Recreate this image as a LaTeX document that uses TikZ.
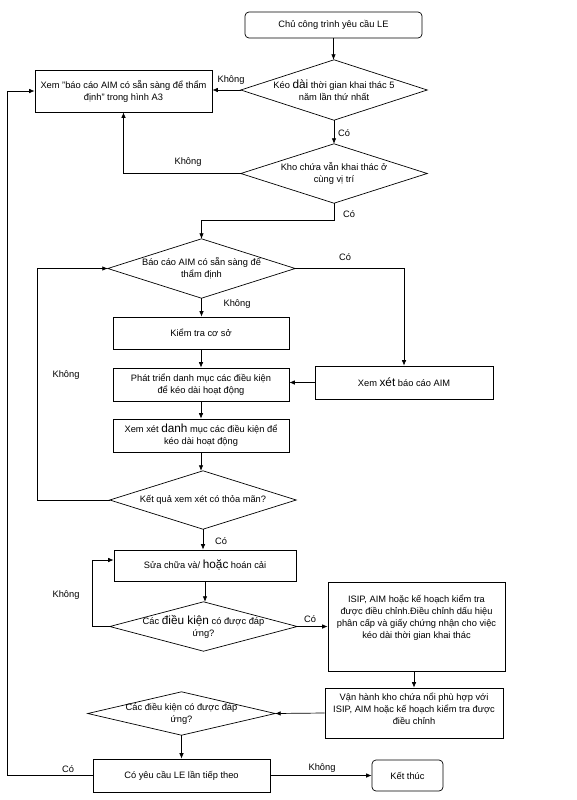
\documentclass[tikz,border=0pt]{standalone}
\usepackage{fontspec}
\setmainfont{Liberation Sans}
\usetikzlibrary{arrows.meta}
\newcommand\fs{\fontsize{9.3}{12}\selectfont}
\newcommand\bg[1]{{\fontsize{11.8}{12}\selectfont #1}}
\tikzset{
  box/.style={draw, line width=0.7pt, inner sep=2pt, align=center, font=\fs},
  rbox/.style={box, rounded corners=4pt},
  dtxt/.style={inner sep=0pt, align=center, font=\fs},
  ttxt/.style={inner sep=0pt, align=center, font=\fs},
  lbl/.style={font=\fs, inner sep=1pt},
  arr/.style={-{Latex[length=5.5pt,width=4.5pt]}, line width=0.7pt},
  ln/.style={line width=0.7pt},
}
\begin{document}
\begin{tikzpicture}[x=1pt,y=-1pt]
\useasboundingbox (0,0) rectangle (576,800);
\fill[white] (0,0) rectangle (576,800);

% nodes
\node[rbox, minimum width=177pt, minimum height=26pt] (start) at (333.5,25) {Chủ công trình yêu cầu LE};
\node[dtxt, minimum width=186pt, minimum height=60pt] (d1) at (334,90) {Kéo \bg{dài} thời gian khai thác 5\\năm lần thứ nhất};
\node[box, minimum width=177pt, minimum height=42pt] (A3) at (123.5,91) {Xem "báo cáo AIM có sẵn sàng để thẩm\\định" trong hình A3};
\node[dtxt, minimum width=186pt, minimum height=59pt] (d2) at (334,173.5) {Kho chứa vẫn khai thác ở\\cùng vị trí};
\node[dtxt, minimum width=187pt, minimum height=59pt] (d3) at (201.5,268.5) {Báo cáo AIM có sẵn sàng để\\thẩm định};
\node[box, minimum width=178pt, minimum height=33pt] (AIM) at (404,382.5) {Xem \bg{xét} báo cáo AIM};
\node[box, minimum width=176pt, minimum height=32pt] (KT1) at (201,333) {Kiểm tra cơ sở};
\node[box, minimum width=176pt, minimum height=33pt] (PT) at (201,384.5) {Phát triển danh mục các điều kiện\\để kéo dài hoạt động};
\node[box, minimum width=176pt, minimum height=33pt] (XX) at (201,435.5) {Xem xét \bg{danh} mục các điều kiện để\\kéo dài hoạt động};
\node[dtxt, minimum width=186pt, minimum height=58pt] (d4) at (203,500) {Kết quả xem xét có thỏa mãn?};
\node[box, minimum width=182pt, minimum height=31pt] (SC) at (205,565.5) {Sửa chữa và/ \bg{hoặc} hoán cải};
\node[dtxt, minimum width=187pt, minimum height=49pt] (d5) at (203.5,626.5) {Các \bg{điều kiện} có được đáp\\ứng?};
\node[box, minimum width=177pt, minimum height=89pt] (ISIP) at (416.5,626.5) {};
\node[ttxt] (ISIPt) at (416.5,618) {ISIP, AIM hoặc kế hoạch kiểm tra\\được điều chỉnh.Điều chỉnh dấu hiệu\\phân cấp và giấy chứng nhận cho việc\\kéo dài thời gian khai thác};
\node[box, minimum width=178pt, minimum height=50pt] (VH) at (414,713) {};
\node[ttxt] (VHt) at (414,709) {Vận hành kho chứa nổi phù hợp với\\ISIP, AIM hoặc kế hoạch kiểm tra được\\điều chỉnh};
\node[dtxt, minimum width=187pt, minimum height=43pt] (d6) at (181.5,713.5) {Các điều kiện có được đáp\\ứng?};
\node[box, minimum width=177pt, minimum height=33pt] (LE) at (181.5,775.5) {Có yêu cầu LE lần tiếp theo};
\node[rbox, minimum width=71pt, minimum height=31pt] (END) at (407.5,775.5) {Kết thúc};

% diamonds
\foreach \n in {d1,d2,d3,d4,d5,d6}
  \draw[ln] (\n.north) -- (\n.east) -- (\n.south) -- (\n.west) -- cycle;

% helper coordinates
\coordinate (j1) at (0,220);
\coordinate (c4) at (37,0);
\coordinate (c5) at (92,560);
\coordinate (c6) at (7,0);

% connectors
\draw[arr] (start.south) -- (start.south |- d1.north);
\draw[arr] (d1.west) -- (d1.west -| A3.east);
\draw[arr] (d1.south) -- (d2.north);
\draw[arr] (d2.west) -| (A3.south);
\draw[arr] (d2.south) -- (d2.south |- j1) -| (d3.north);
\draw[arr] (d3.east) -| (AIM.north);
\draw[arr] (d3.south) -- (d3.south |- KT1.north);
\draw[arr] (KT1.south) -- (PT.north);
\draw[arr] (AIM.west) -- (AIM.west -| PT.east);
\draw[arr] (PT.south) -- (XX.north);
\draw[arr] (XX.south) -- (XX.south |- d4.north);
\draw[arr] (d4.west) -- (d4.west -| c4) |- (d3.west);
\draw[arr] (d4.south) -- (d4.south |- SC.north);
\draw[arr] (SC.south) -- (SC.south |- d5.north);
\draw[arr] (d5.west) -| (c5) -- (c5 -| SC.west);
\draw[arr] (d5.east) -- (ISIP.west);
\draw[arr] (VH.north |- ISIP.south) -- (VH.north);
\draw[arr] (VH.west) -- (d6.east);
\draw[arr] (d6.south) -- (LE.north);
\draw[arr] (LE.west) -- (LE.west -| c6) |- (A3.west);
\draw[arr] (LE.east) -- (END.west);

% labels
\node[lbl] (l1) at (231,80) {Không};
\node[lbl] (l2) at (344,133) {Có};
\node[lbl] (l3) at (188,162) {Không};
\node[lbl] (l4) at (349,214) {Có};
\node[lbl] (l5) at (345,257) {Có};
\node[lbl] (l6) at (237,304) {Không};
\node[lbl] (l7) at (66,375) {Không};
\node[lbl] (l8) at (221,541) {Có};
\node[lbl] (l9) at (66,595) {Không};
\node[lbl] (l10) at (310,619) {Có};
\node[lbl] (l11) at (68,769) {Có};
\node[lbl] (l12) at (322,768) {Không};
\end{tikzpicture}
\end{document}
